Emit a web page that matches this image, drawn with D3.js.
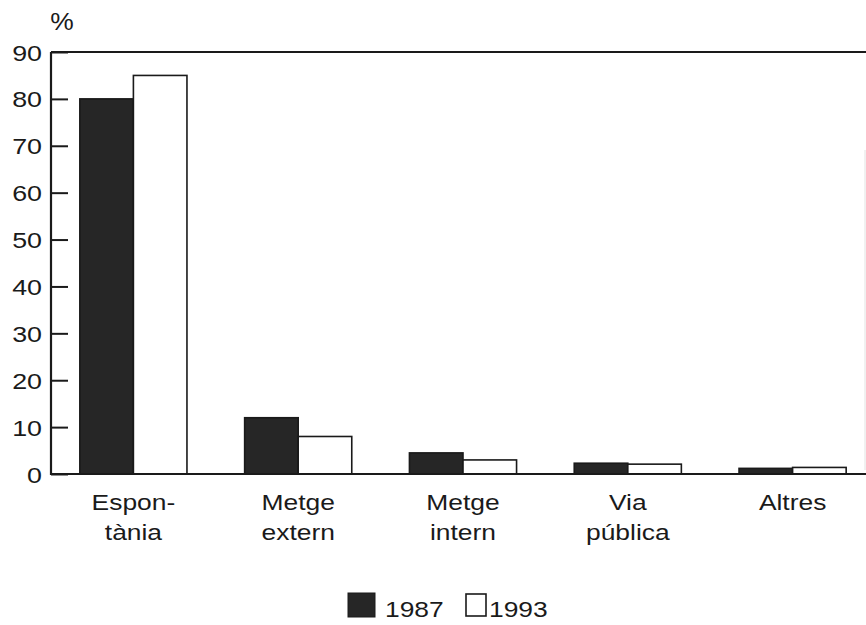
<!DOCTYPE html>
<html>
<head>
<meta charset="utf-8">
<script src="https://cdn.jsdelivr.net/npm/d3@7"></script>
<style>
  html, body { margin: 0; padding: 0; background: #fff; }
  svg text { font-family: "Liberation Sans", Arial, sans-serif; fill: #1a1a1a; }
</style>
</head>
<body>
<svg id="chart" width="866" height="625"></svg>
<script>
const categories = ["Espontània", "Metge extern", "Metge intern", "Via pública", "Altres"];
const categoryLines = [["Espon-", "tània"], ["Metge", "extern"], ["Metge", "intern"], ["Via", "pública"], ["Altres"]];
const series = ["1987", "1993"];
const values1987 = [80, 12, 4.5, 2.3, 1.2];
const values1993 = [85, 8, 3, 2.1, 1.4];
const yTicks = [0, 10, 20, 30, 40, 50, 60, 70, 80, 90];
const unitLabel = "%";

(function () {
const svg = d3.select("#chart");
const mLeft = 51, mRight = 875, mTop = 52, mBottom = 474;
const ink = "#1a1a1a";

const x = d3.scaleBand().domain(categories).range([mLeft, mRight]).paddingInner(0.35).paddingOuter(0.175);
const xs = d3.scaleBand().domain(series).range([0, x.bandwidth()]);
const y = d3.scaleLinear().domain([0, 90]).range([mBottom, mTop]);

const data = categories.map((c, i) => ({ cat: c, lines: categoryLines[i], vals: [values1987[i], values1993[i]] }));

// bars
const groups = svg.append("g").selectAll("g").data(data).join("g")
  .attr("transform", d => `translate(${x(d.cat)},0)`);
groups.selectAll("rect").data(d => d.vals.map((v, j) => ({ s: series[j], v })))
  .join("rect")
  .attr("x", d => xs(d.s))
  .attr("y", d => y(d.v))
  .attr("width", xs.bandwidth())
  .attr("height", d => y(0) - y(d.v))
  .attr("fill", d => d.s === "1987" ? "#262626" : "#fff")
  .attr("stroke", ink)
  .attr("stroke-width", 1.6);

// y axis with inward ticks
const yAxis = d3.axisLeft(y).tickValues(yTicks).tickSize(-17).tickPadding(0).tickFormat(d3.format("d"));
const ga = svg.append("g").attr("transform", `translate(${mLeft},0)`).call(yAxis);
ga.select(".domain").remove();
ga.selectAll(".tick line").attr("stroke", ink).attr("stroke-width", 2);
ga.selectAll(".tick text").remove();
ga.selectAll(".tick").append("text")
  .attr("text-anchor", "end")
  .attr("transform", "translate(-9,8) scale(1.22,1)")
  .attr("font-size", 22)
  .attr("fill", ink)
  .text(d => d);

// axis line, baseline and top frame line
svg.append("line").attr("x1", mLeft).attr("x2", mLeft).attr("y1", mTop).attr("y2", mBottom + 1)
  .attr("stroke", ink).attr("stroke-width", 2.2);
svg.append("line").attr("x1", mLeft).attr("x2", 866).attr("y1", y(0)).attr("y2", y(0))
  .attr("stroke", ink).attr("stroke-width", 2.2);
svg.append("line").attr("x1", mLeft).attr("x2", 866).attr("y1", y(90)).attr("y2", y(90))
  .attr("stroke", ink).attr("stroke-width", 2.2);
svg.append("line").attr("x1", 865).attr("x2", 865).attr("y1", 150).attr("y2", 470)
  .attr("stroke", "#e2e2e2").attr("stroke-width", 1);

// unit label
svg.append("text").attr("transform", `translate(62,30) scale(1.1,1)`)
  .attr("text-anchor", "middle").attr("font-size", 24).text(unitLabel);

// category labels
const lab = svg.append("g").selectAll("g").data(data).join("g")
  .attr("transform", d => `translate(${x(d.cat) + x.bandwidth() / 2},0)`);
lab.selectAll("text").data(d => d.lines).join("text")
  .attr("text-anchor", "middle")
  .attr("font-size", 22)
  .attr("transform", (d, i) => `translate(0,${510 + i * 30}) scale(1.2,1)`)
  .text(d => d);

// legend
const legend = svg.append("g");
legend.append("rect").attr("x", 348).attr("y", 593).attr("width", 27).attr("height", 24)
  .attr("fill", "#262626").attr("stroke", ink).attr("stroke-width", 1);
legend.append("text").attr("transform", "translate(385,617) scale(1.2,1)").attr("font-size", 22).text(series[0]);
legend.append("rect").attr("x", 466).attr("y", 594).attr("width", 20).attr("height", 22)
  .attr("fill", "#fff").attr("stroke", ink).attr("stroke-width", 1.6);
legend.append("text").attr("transform", "translate(489,617) scale(1.2,1)").attr("font-size", 22).text(series[1]);
})();
</script>
</body>
</html>
